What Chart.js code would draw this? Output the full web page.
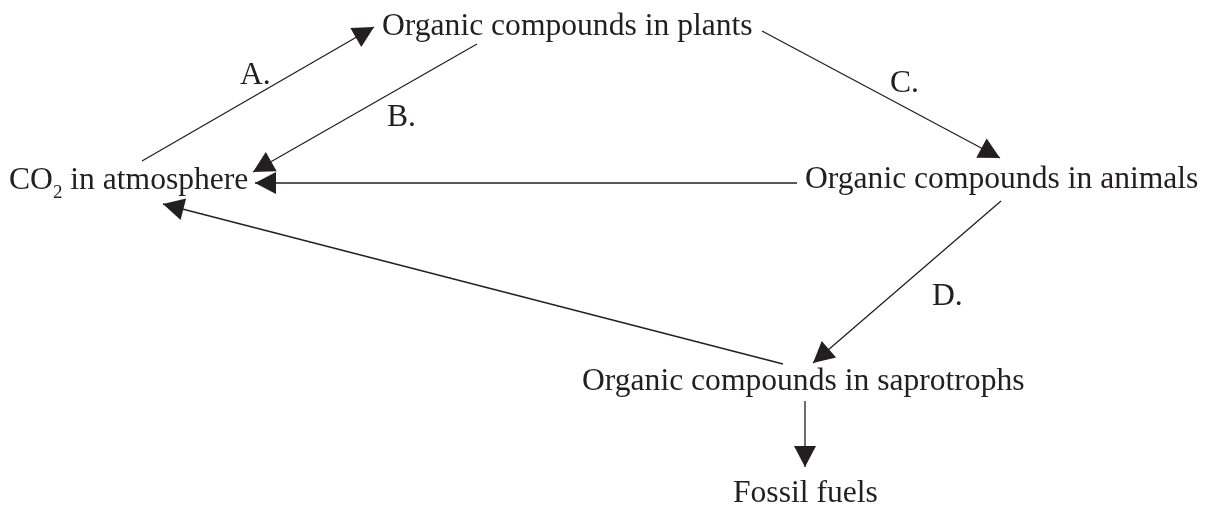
<!DOCTYPE html>
<html>
<head>
<meta charset="utf-8">
<script src="https://cdn.jsdelivr.net/npm/chart.js@4"></script>
<style>
  html, body { margin: 0; padding: 0; background: #fff; }
  canvas { display: block; }
</style>
</head>
<body>
<canvas id="myChart" width="1216" height="509"></canvas>
<script>
// pools of carbon: text pieces (middle piece is a subscript), left x and baseline y
const nodeTexts = [
    ['CO', '2', ' in atmosphere'],
    ['Organic compounds in plants'],
    ['Organic compounds in animals'],
    ['Organic compounds in saprotrophs'],
    ['Fossil fuels']
];
const nodeX = [9, 382, 805, 582, 733];
const nodeY = [189, 35, 188, 390, 502];

// arrows: start point -> tip
const arrowX1 = [142, 477, 762, 797, 1001, 783, 805];
const arrowY1 = [161, 44, 31, 183, 201, 364, 401];
const arrowX2 = [374, 253, 1000, 255, 813, 163, 805];
const arrowY2 = [27, 172, 158, 183, 363, 204, 467];

// process labels
const stepLabels = ['A.', 'B.', 'C.', 'D.'];
const stepX = [240, 387, 890, 932];
const stepY = [84, 126, 92, 305];

const ink = '#231f20';
const mainFont = "31.6px 'Liberation Serif', 'Times New Roman', serif";
const subFont = "19px 'Liberation Serif', 'Times New Roman', serif";

const datasets = arrowX1.map((x, i) => ({
    data: [{ x: x, y: arrowY1[i] }, { x: arrowX2[i], y: arrowY2[i] }],
    showLine: true,
    borderColor: ink,
    borderWidth: 1.3,
    pointRadius: 0,
    fill: false
}));

const diagramPlugin = {
    id: 'diagram',
    afterDatasetsDraw(chart) {
        const ctx = chart.ctx;
        const xs = chart.scales.x, ys = chart.scales.y;
        ctx.save();
        ctx.fillStyle = ink;

        // arrow heads at the end of each line
        chart.data.datasets.forEach((ds, i) => {
            const pts = chart.getDatasetMeta(i).data;
            const a = pts[0], b = pts[1];
            const dx = b.x - a.x, dy = b.y - a.y;
            const len = Math.hypot(dx, dy);
            const ux = dx / len, uy = dy / len;
            const L = 21, W = 11;
            const bx = b.x - ux * L, by = b.y - uy * L;
            ctx.beginPath();
            ctx.moveTo(b.x, b.y);
            ctx.lineTo(bx - uy * W, by + ux * W);
            ctx.lineTo(bx + uy * W, by - ux * W);
            ctx.closePath();
            ctx.fill();
        });

        // node texts
        ctx.textAlign = 'left';
        ctx.textBaseline = 'alphabetic';
        nodeTexts.forEach((parts, i) => {
            let px = xs.getPixelForValue(nodeX[i]);
            const py = ys.getPixelForValue(nodeY[i]);
            parts.forEach((t, k) => {
                const sub = parts.length === 3 && k === 1;
                ctx.font = sub ? subFont : mainFont;
                ctx.fillText(t, px, sub ? py + 9 : py);
                px += ctx.measureText(t).width;
            });
        });

        // step labels
        ctx.font = mainFont;
        stepLabels.forEach((t, i) => {
            ctx.fillText(t, xs.getPixelForValue(stepX[i]), ys.getPixelForValue(stepY[i]));
        });
        ctx.restore();
    }
};

const ctx = document.getElementById('myChart').getContext('2d');
new Chart(ctx, {
    type: 'scatter',
    data: { datasets: datasets },
    options: {
        responsive: false,
        animation: false,
        layout: { padding: 0 },
        scales: {
            x: { type: 'linear', min: 0, max: 1216, display: false },
            y: { type: 'linear', min: 0, max: 509, reverse: true, display: false }
        },
        plugins: {
            legend: { display: false },
            tooltip: { enabled: false }
        }
    },
    plugins: [diagramPlugin]
});
</script>
</body>
</html>
